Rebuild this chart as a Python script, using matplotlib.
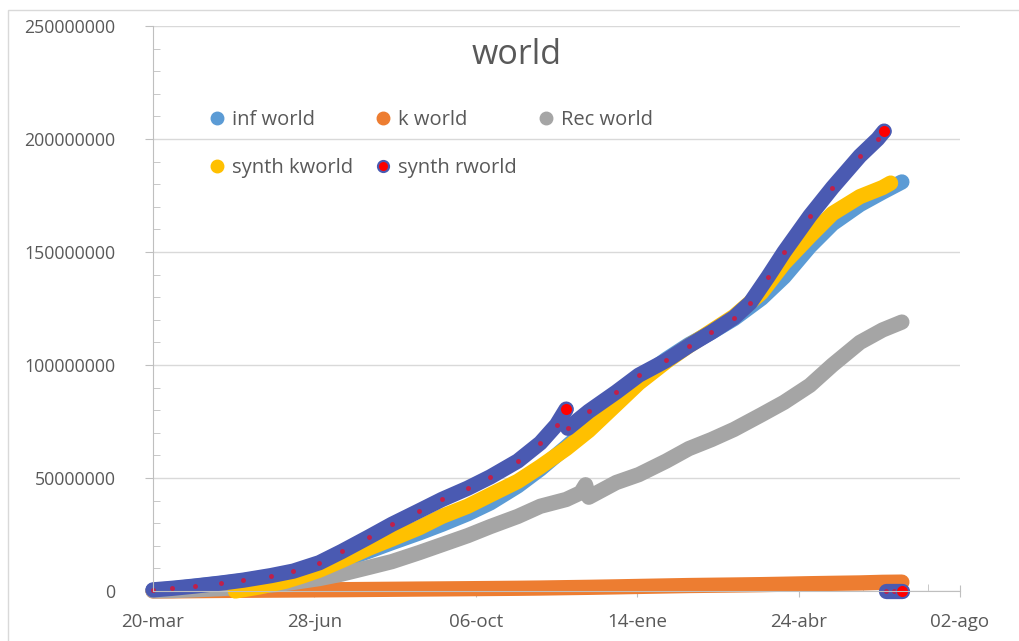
import pandas as pd
import matplotlib
matplotlib.use('Agg')
import matplotlib.pyplot as plt
from matplotlib.lines import Line2D
from matplotlib.patches import Rectangle

plt.rcParams['font.family'] = ['Open Sans', 'DejaVu Sans']

# values in millions
dates = ['2020-03-20', '2020-04-01', '2020-04-15', '2020-05-01', '2020-05-15', '2020-06-01',
         '2020-06-15', '2020-07-01', '2020-07-15', '2020-08-01', '2020-08-15', '2020-09-01',
         '2020-09-15', '2020-10-01', '2020-10-15', '2020-11-01', '2020-11-15', '2020-12-01',
         '2020-12-15', '2021-01-01', '2021-01-15', '2021-02-01', '2021-02-15', '2021-03-01',
         '2021-03-15', '2021-04-01', '2021-04-15', '2021-05-01', '2021-05-15', '2021-06-01',
         '2021-06-15', '2021-06-27']
inf_world = [0.27, 0.93, 2.08, 3.35, 4.55, 6.3, 8.0, 10.6, 13.4, 17.7, 21.4, 25.7,
             29.5, 34.2, 39.0, 46.5, 54.0, 63.7, 72.5, 84.0, 93.5, 102.5, 109.0, 114.5,
             120.5, 129.5, 139.0, 152.5, 162.5, 171.0, 176.5, 181.0]
k_world = [0.01, 0.05, 0.14, 0.24, 0.31, 0.38, 0.44, 0.52, 0.58, 0.68, 0.76, 0.86,
           0.93, 1.02, 1.10, 1.20, 1.31, 1.48, 1.62, 1.83, 2.02, 2.24, 2.42, 2.54,
           2.66, 2.82, 3.00, 3.23, 3.39, 3.57, 3.84, 3.93]

rec_dates = ['2020-03-20', '2020-04-01', '2020-04-15', '2020-05-01', '2020-05-15', '2020-06-01',
             '2020-06-15', '2020-07-01', '2020-07-15', '2020-08-01', '2020-08-15', '2020-09-01',
             '2020-09-15', '2020-10-01', '2020-10-15', '2020-11-01', '2020-11-15', '2020-12-01',
             '2020-12-10', '2020-12-13', '2020-12-15', '2021-01-01', '2021-01-15', '2021-02-01',
             '2021-02-15', '2021-03-01', '2021-03-15', '2021-04-01', '2021-04-15', '2021-05-01',
             '2021-05-15', '2021-06-01', '2021-06-15', '2021-06-27']
rec_world = [0.09, 0.19, 0.52, 1.05, 1.7, 2.6, 3.8, 5.5, 7.5, 10.5, 13.0, 17.0,
             20.5, 24.5, 28.5, 33.0, 37.5, 40.5, 43.5, 47.0, 41.5, 48.0, 51.5, 57.5,
             63.0, 67.0, 71.5, 78.0, 83.5, 91.0, 100.0, 110.0, 115.5, 119.0]

synth_k_dates = ['2020-05-10', '2020-05-25', '2020-06-10', '2020-06-20', '2020-07-01', '2020-07-15',
                 '2020-08-01', '2020-08-15', '2020-09-01', '2020-09-15', '2020-10-01', '2020-10-15',
                 '2020-11-01', '2020-11-15', '2020-12-01', '2020-12-15', '2021-01-01', '2021-01-15',
                 '2021-02-01', '2021-02-15', '2021-03-01', '2021-03-15', '2021-04-01', '2021-04-15',
                 '2021-05-01', '2021-05-15', '2021-06-01', '2021-06-15', '2021-06-20']
synth_kworld = [0.0, 1.8, 4.3, 6.5, 9.2, 13.5, 19.0, 23.0, 28.0, 33.0, 37.5, 42.5,
                48.5, 55.0, 63.0, 71.0, 82.5, 92.0, 101.5, 108.5, 115.0, 121.5, 132.0, 145.0,
                157.0, 167.0, 174.5, 178.5, 180.5]

synth_r_dates1 = ['2020-03-20', '2020-04-01', '2020-04-15', '2020-05-01', '2020-05-15', '2020-06-01',
                  '2020-06-15', '2020-07-01', '2020-07-15', '2020-08-01', '2020-08-15', '2020-09-01',
                  '2020-09-15', '2020-10-01', '2020-10-15', '2020-11-01', '2020-11-15', '2020-11-25',
                  '2020-12-01']
synth_rworld1 = [0.5, 1.2, 2.2, 3.5, 4.8, 6.8, 8.8, 12.5, 17.5, 24.0, 29.5, 35.5,
                 40.5, 45.5, 50.5, 57.5, 65.5, 73.5, 80.5]
synth_r_dates2 = ['2020-12-02', '2020-12-15', '2021-01-01', '2021-01-15', '2021-02-01', '2021-02-15',
                  '2021-03-01', '2021-03-15', '2021-03-25', '2021-04-05', '2021-04-15', '2021-05-01',
                  '2021-05-15', '2021-06-01', '2021-06-12', '2021-06-16']
synth_rworld2 = [72.0, 79.5, 88.0, 95.5, 102.0, 108.5, 114.5, 121.0, 127.5, 139.0, 150.0, 166.0,
                 178.5, 192.5, 200.0, 203.5]
synth_r_dates3 = ['2021-06-17', '2021-06-22', '2021-06-27']
synth_rworld3 = [0.0, 0.0, 0.0]

x_tick_labels = ['20-mar', '28-jun', '06-oct', '14-ene', '24-abr', '02-ago']
y_ticks = [0, 50, 100, 150, 200, 250]

c_inf = '#5B9BD5'
c_k = '#ED7D31'
c_rec = '#A5A5A5'
c_sk = '#FFC000'
c_sr = '#4A5AB2'
c_red = '#FF0000'
c_txt = '#595959'


def band(ax, d, v, color, lw=11):
    ax.plot(pd.to_datetime(d), [x * 1e6 for x in v], color=color, lw=lw,
            solid_capstyle='round', solid_joinstyle='round', clip_on=False)


fig = plt.figure(figsize=(10.19, 6.41), dpi=100)
fig.patches.append(Rectangle((8 / 1019, -0.1), 1.2, (641 - 10) / 641 + 0.1,
                             transform=fig.transFigure, fill=False,
                             edgecolor='#D9D9D9', lw=1))
ax = fig.add_axes([153 / 1019, 50 / 641, 807 / 1019, 565 / 641])

band(ax, dates, inf_world, c_inf)
band(ax, dates, k_world, c_k)
band(ax, rec_dates, rec_world, c_rec)
band(ax, synth_k_dates, synth_kworld, c_sk)
for d, v in [(synth_r_dates1, synth_rworld1), (synth_r_dates2, synth_rworld2),
             (synth_r_dates3, synth_rworld3)]:
    band(ax, d, v, c_sr)
    dd = pd.to_datetime(d)
    vv = [x * 1e6 for x in v]
    ax.plot(dd[:-1], vv[:-1], ls='', marker='o', ms=2.5, color='#C0204A', clip_on=False)
    ax.plot(dd[-1:], vv[-1:], ls='', marker='o', ms=9, mfc=c_red, mec=c_sr, mew=1,
            clip_on=False)

start = pd.Timestamp('2020-03-20')
major = pd.date_range(start, periods=6, freq='100D')
minor = pd.date_range(start, periods=26, freq='20D')
ax.set_xlim(major[0], major[-1])
ax.set_xticks(major)
ax.set_xticklabels(x_tick_labels)
ax.set_xticks(minor, minor=True)
ax.set_ylim(0, 250e6)
ax.set_yticks([y * 1e6 for y in y_ticks])
ax.set_yticklabels([str(y * 1000000) for y in y_ticks])
ax.set_yticks([y * 1e6 for y in range(0, 251, 10)], minor=True)

for s in ['top', 'right']:
    ax.spines[s].set_visible(False)
ax.spines['left'].set_color('#BFBFBF')
ax.spines['bottom'].set_color('#BFBFBF')
ax.tick_params(axis='both', which='major', colors='#BFBFBF', labelcolor=c_txt, labelsize=13.5)
ax.tick_params(axis='y', which='major', direction='out', length=6, pad=21, labelsize=12.8)
ax.tick_params(axis='y', which='minor', direction='in', length=5, colors='#BFBFBF')
ax.tick_params(axis='x', which='major', direction='inout', length=8, pad=12)
ax.tick_params(axis='x', which='minor', direction='in', length=5, colors='#BFBFBF')
ax.grid(axis='y', which='major', color='#D9D9D9', lw=1)
ax.set_axisbelow(True)

fig.text(517 / 1019, 1 - 55 / 641, 'world', ha='center', va='center',
         fontsize=24.5, color=c_txt)

h_inf = Line2D([], [], ls='', marker='o', ms=9, color=c_inf)
h_k = Line2D([], [], ls='', marker='o', ms=9, color=c_k)
h_rec = Line2D([], [], ls='', marker='o', ms=9, color=c_rec)
h_sk = Line2D([], [], ls='', marker='o', ms=9, color=c_sk)
h_sr = Line2D([], [], ls='', marker='o', ms=8, mfc=c_red, mec=c_sr, mew=1.5)
ax.legend([h_inf, h_sk, h_k, h_sr, h_rec],
          ['inf world', 'synth kworld', 'k world', 'synth rworld', 'Rec world'],
          ncol=3, loc='upper left', bbox_to_anchor=(199 / 1019, 1 - 100 / 641),
          bbox_transform=fig.transFigure, frameon=False, fontsize=14.5,
          handlelength=0.8, handletextpad=0.35, columnspacing=1.05, labelspacing=1.4,
          borderpad=0, labelcolor=c_txt)

fig.savefig('out.png', dpi=100)
